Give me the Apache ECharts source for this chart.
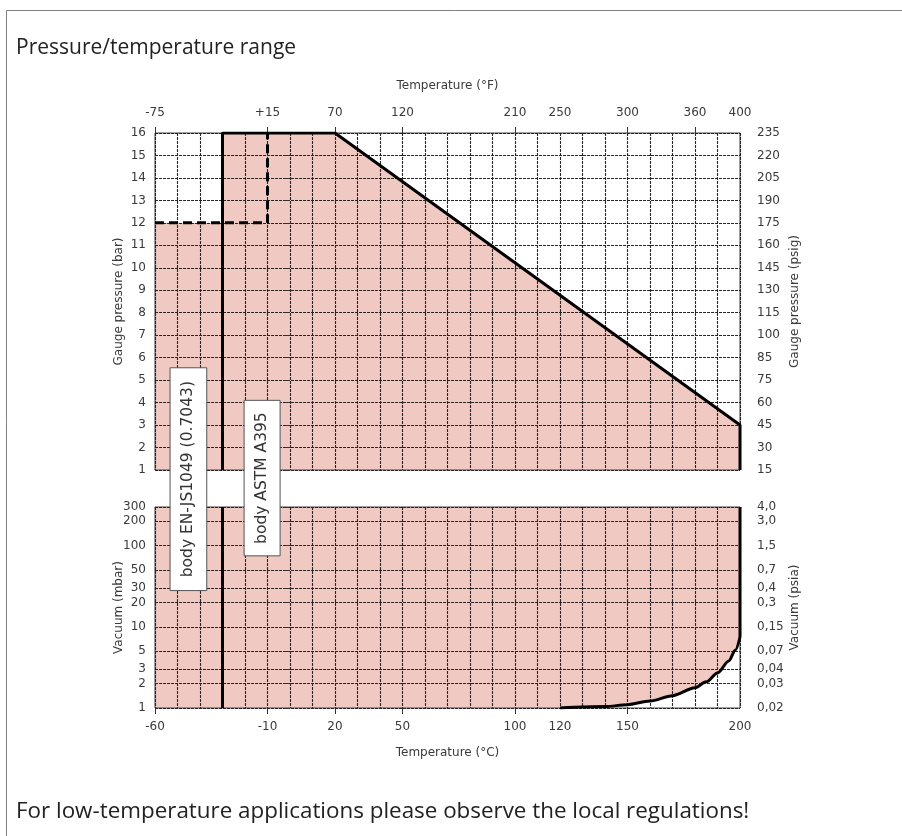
<!DOCTYPE html>
<html>
<head>
<meta charset="utf-8">
<script src="https://cdn.jsdelivr.net/npm/echarts@6/dist/echarts.min.js"></script>
<style>
html,body{margin:0;padding:0;background:#fff;}
#chart{width:902px;height:836px;}
</style>
</head>
<body>
<div id="chart"></div>
<script>
// ---- data ----
const celsiusTicks = [-60, -10, 20, 50, 100, 120, 150, 200];
const celsiusTickMarks = [-60, -10, 20, 50, 100, 150];
const fahrenheitPos = [-60, -10, 20, 50, 100, 120, 150, 180, 200];
const fahrenheitLabels = ['-75', '+15', '70', '120', '210', '250', '300', '360', '400'];
const fahrenheitTickMarks = [-60, -10, 20, 50, 100, 150, 180];
const barTicks = [1, 2, 3, 4, 5, 6, 7, 8, 9, 10, 11, 12, 13, 14, 15, 16];
const psigLabels = ['15', '30', '45', '60', '75', '85', '100', '115', '130', '145', '160', '175', '190', '205', '220', '235'];
const mbarTicks = [1, 2, 3, 5, 10, 20, 30, 50, 100, 200, 300];
const psiaLabels = ['0,02', '0,03', '0,04', '0,07', '0,15', '0,3', '0,4', '0,7', '1,5', '3,0', '4,0'];

const pressureFill = [[-60, 12], [-30, 12], [-30, 16], [20, 16], [200, 3]];
const pressureLimit = [[-30, 1], [-30, 16], [20, 16], [200, 3], [200, 1]];
const dashedLimit = [[-60, 12], [-10, 12], [-10, 16]];
const vacuumCurve = [[120, 1], [140, 1.04], [150, 1.1], [160, 1.22], [170, 1.42], [180, 1.78], [185, 2.1], [190, 2.7], [195, 3.8], [198, 5.2], [200, 7.5]];
const vacuumFillBase = [[-60, 1]];
const vacuumWall = [[200, 7.5], [200, 300]];
const vacuumBody = [[-30, 1], [-30, 300]];

// annotation boxes: [xFrom, xTo, barTop, mbarBottom]
const boxLabels = ['body EN-JS1049 (0.7043)', 'body ASTM A395'];
const boxRanges = [[-53.3, -37, 5.55, 28], [-20.4, -4.4, 4.1, 75]];

// ---- styles ----
const pink = '#f0c9c2';
const gridLineStyle = { color: '#262626', width: 1.1, type: [3, 1] };
const labelFont = { fontFamily: 'DejaVu Sans', fontSize: 12, color: '#3a3a3a' };
const nameFont = { fontFamily: 'DejaVu Sans', fontSize: 12, color: '#3a3a3a' };

const chart = echarts.init(document.getElementById('chart'), null, { renderer: 'canvas' });

const option = {
  animation: false,
  backgroundColor: '#fff',
  title: {
    text: 'Pressure/temperature range',
    left: 11, top: 33,
    textStyle: { fontFamily: 'Open Sans', fontSize: 21, fontWeight: 'normal', color: '#222' }
  },
  grid: [
    { left: 155, right: 162, top: 133, height: 337, show: true, borderColor: '#444', borderWidth: 1, backgroundColor: 'transparent' },
    { left: 155, right: 162, top: 507, height: 201, show: true, borderColor: '#444', borderWidth: 1, backgroundColor: 'transparent' }
  ],
  xAxis: [
    { gridIndex: 0, type: 'value', position: 'bottom', min: -60, max: 200, interval: 10,
      axisLine: { show: false }, axisTick: { show: false }, axisLabel: { show: false },
      splitLine: { show: true, lineStyle: gridLineStyle } },
    { gridIndex: 0, type: 'value', position: 'top', min: -60, max: 200,
      axisLine: { show: false },
      axisTick: { show: true, length: 6, customValues: fahrenheitTickMarks, lineStyle: { color: '#333' } },
      axisLabel: Object.assign({ customValues: fahrenheitPos, margin: 14,
        formatter: v => fahrenheitLabels[fahrenheitPos.indexOf(v)] }, labelFont),
      splitLine: { show: false },
      name: 'Temperature (°F)', nameLocation: 'middle', nameGap: 41, nameMoveOverlap: false, nameTextStyle: nameFont },
    { gridIndex: 1, type: 'value', position: 'bottom', min: -60, max: 200, interval: 10,
      axisLine: { show: false }, axisTick: { show: false }, axisLabel: { show: false },
      splitLine: { show: true, lineStyle: gridLineStyle } },
    { gridIndex: 1, type: 'value', position: 'bottom', min: -60, max: 200,
      axisLine: { show: false },
      axisTick: { show: true, length: 6, customValues: celsiusTickMarks, lineStyle: { color: '#333' } },
      axisLabel: Object.assign({ customValues: celsiusTicks, margin: 13,
        formatter: v => String(v) }, labelFont),
      splitLine: { show: false },
      name: 'Temperature (°C)', nameLocation: 'middle', nameGap: 39, nameMoveOverlap: false, nameTextStyle: nameFont }
  ],
  yAxis: [
    { gridIndex: 0, type: 'value', position: 'left', min: 1, max: 16, interval: 1,
      axisLine: { show: false },
      axisTick: { show: true, length: 5, lineStyle: { color: '#333' } },
      axisLabel: Object.assign({ margin: 9 }, labelFont),
      splitLine: { show: true, lineStyle: gridLineStyle },
      name: 'Gauge pressure (bar)', nameLocation: 'middle', nameGap: 30, nameRotate: 90, nameMoveOverlap: false, nameTextStyle: nameFont },
    { gridIndex: 0, type: 'value', position: 'right', min: 1, max: 16, interval: 1,
      axisLine: { show: false }, axisTick: { show: false },
      axisLabel: Object.assign({ margin: 17, formatter: v => psigLabels[barTicks.indexOf(v)] }, labelFont),
      splitLine: { show: false },
      name: 'Gauge pressure (psig)', nameLocation: 'middle', nameGap: 49, nameRotate: 90, nameMoveOverlap: false, nameTextStyle: nameFont },
    { gridIndex: 1, type: 'log', logBase: 10, position: 'left', min: 1, max: 300,
      axisLine: { show: false },
      axisTick: { show: true, length: 5, customValues: mbarTicks, lineStyle: { color: '#333' } },
      axisLabel: Object.assign({ customValues: mbarTicks, margin: 9, formatter: v => String(Math.round(v)) }, labelFont),
      splitLine: { show: true, lineStyle: gridLineStyle },
      name: 'Vacuum (mbar)', nameLocation: 'middle', nameGap: 30, nameRotate: 90, nameMoveOverlap: false, nameTextStyle: nameFont },
    { gridIndex: 1, type: 'log', logBase: 10, position: 'right', min: 1, max: 300,
      axisLine: { show: false }, axisTick: { show: false },
      axisLabel: Object.assign({ customValues: mbarTicks, margin: 17,
        formatter: v => { let i = mbarTicks.findIndex(m => Math.abs(m - v) < 1e-6 * m); return i >= 0 ? psiaLabels[i] : ''; } }, labelFont),
      splitLine: { show: false },
      name: 'Vacuum (psia)', nameLocation: 'middle', nameGap: 49, nameRotate: 90, nameMoveOverlap: false, nameTextStyle: nameFont }
  ],
  series: [
    { type: 'line', xAxisIndex: 0, yAxisIndex: 0, data: pressureFill, showSymbol: false, z: -1,
      lineStyle: { width: 0 }, areaStyle: { color: pink, opacity: 1, origin: 'start' }, silent: true },
    { type: 'line', xAxisIndex: 2, yAxisIndex: 2, data: vacuumFillBase.concat(vacuumCurve), showSymbol: false, z: -1,
      smooth: 0.3, smoothMonotone: 'x',
      lineStyle: { width: 0 }, areaStyle: { color: pink, opacity: 1, origin: 'end' }, silent: true },
    { type: 'line', xAxisIndex: 0, yAxisIndex: 0, data: pressureLimit, showSymbol: false, z: 5,
      lineStyle: { color: '#000', width: 3 } },
    { type: 'line', xAxisIndex: 0, yAxisIndex: 0, data: dashedLimit, showSymbol: false, z: 5,
      lineStyle: { color: '#000', width: 3, type: [9, 5] } },
    { type: 'line', xAxisIndex: 2, yAxisIndex: 2, data: vacuumBody, showSymbol: false, z: 5,
      lineStyle: { color: '#000', width: 3 } },
    { type: 'line', xAxisIndex: 2, yAxisIndex: 2, data: vacuumCurve, showSymbol: false, z: 5,
      smooth: 0.3, smoothMonotone: 'x', lineStyle: { color: '#000', width: 3 } },
    { type: 'line', xAxisIndex: 2, yAxisIndex: 2, data: vacuumWall, showSymbol: false, z: 5,
      lineStyle: { color: '#000', width: 3 } }
  ]
};
chart.setOption(option);

// frame, footer and annotation boxes (boxes placed through the chart's coordinate conversion)
const graphics = [
  { type: 'polyline', shape: { points: [[6.5, 836], [6.5, 10.5], [902, 10.5]] }, style: { stroke: '#808080', lineWidth: 1, fill: null }, z: 10 },
  { type: 'text', left: 16, top: 801, style: { text: 'For low-temperature applications please observe the local regulations!',
      fontFamily: 'Open Sans', fontSize: 22.4, fill: '#222' }, z: 10 }
];
boxRanges.forEach((r, i) => {
  const tl = chart.convertToPixel({ seriesIndex: 0 }, [r[0], r[2]]);
  const br = chart.convertToPixel({ seriesIndex: 1 }, [r[1], r[3]]);
  const w = br[0] - tl[0], h = br[1] - tl[1];
  graphics.push({ type: 'rect', shape: { x: tl[0], y: tl[1], width: w, height: h },
    style: { fill: '#fff', stroke: '#555', lineWidth: 1 }, z: 20 });
  graphics.push({ type: 'text', x: tl[0] + w / 2, y: tl[1] + h / 2, rotation: Math.PI / 2,
    style: { text: boxLabels[i], fontFamily: 'DejaVu Sans', fontSize: 15.5, fill: '#333', align: 'center', verticalAlign: 'middle' }, z: 21 });
});
chart.setOption({ graphic: graphics });
</script>
</body>
</html>
